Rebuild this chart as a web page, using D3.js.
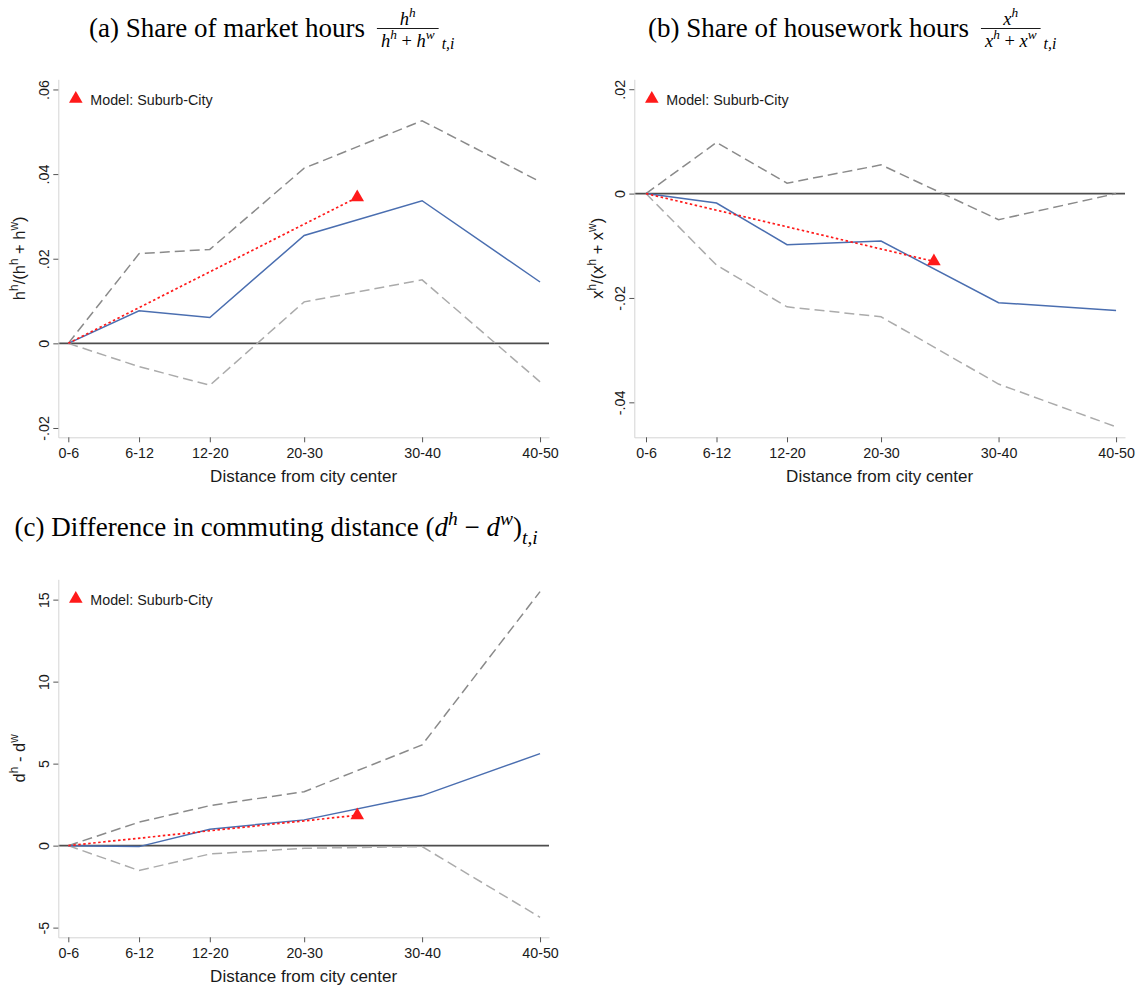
<!DOCTYPE html>
<html>
<head>
<meta charset="utf-8">
<script src="https://cdn.jsdelivr.net/npm/d3@7"></script>
<style>
  body { margin: 0; background: #fff; }
  svg { display: block; }
</style>
</head>
<body>
<div id="chart"></div>
<script>
// distance bands on the x axis and where they sit (Stata spacing)
var categories = ['0-6', '6-12', '12-20', '20-30', '30-40', '40-50'];
var xPos = [0, 3, 6, 10, 15, 20];
var modelX = [0, 12.25];

// (a) share of market hours
var marketEst = [0, 0.0077, 0.0061, 0.0255, 0.0337, 0.0145];
var marketHi = [0, 0.0212, 0.0222, 0.0414, 0.0526, 0.0382];
var marketLo = [0, -0.0055, -0.0099, 0.0098, 0.0150, -0.0091];
var marketModel = [0, 0.0345];
var marketTicks = [-0.02, 0, 0.02, 0.04, 0.06];

// (b) share of housework hours
var houseEst = [0, -0.0018, -0.0098, -0.0091, -0.0209, -0.0224];
var houseHi = [0, 0.0098, 0.0020, 0.0055, -0.0050, 0.0];
var houseLo = [0, -0.0137, -0.0217, -0.0236, -0.0365, -0.0447];
var houseModel = [0, -0.0130];
var houseTicks = [-0.04, -0.02, 0, 0.02];

// (c) difference in commuting distance
var commuteEst = [0, -0.06, 1.0, 1.57, 3.05, 5.61];
var commuteHi = [0, 1.43, 2.44, 3.29, 6.14, 15.49];
var commuteLo = [0, -1.52, -0.51, -0.16, -0.06, -4.37];
var commuteModel = [0, 1.85];
var commuteTicks = [-5, 0, 5, 10, 15];

var legendText = 'Model: Suburb-City';
var xTitle = 'Distance from city center';

var serif = '"Liberation Serif", "DejaVu Serif", serif';
var sans = '"Liberation Sans", Arial, sans-serif';
var blue = '#4a6eb0', red = '#ff1a1a';
var titleSize = 27, mathSize = 18.5;

var svg = d3.select('#chart').append('svg')
            .attr('width', 1142)
            .attr('height', 988);

var panels = [
  { left: 58.3, right: 549, top: 79.3, bottom: 437.3,
    xDomain: [-0.424, 20.38], yDomain: [-0.0222, 0.0624], ticks: marketTicks,
    est: marketEst, hi: marketHi, lo: marketLo, model: marketModel,
    labelX: 25, label: [{t: 'h'}, {t: 'h', s: 'sup'}, {t: '/(h'}, {t: 'h', s: 'sup'}, {t: ' + h'}, {t: 'w', s: 'sup'}, {t: ')'}],
    titleX: 89, titleY: 36.5, title: '(a) Share of market hours', frac: 'h' },
  { left: 634.3, right: 1125, top: 79.3, bottom: 437.3,
    xDomain: [-0.498, 20.38], yDomain: [-0.0467, 0.0219], ticks: houseTicks,
    est: houseEst, hi: houseHi, lo: houseLo, model: houseModel,
    labelX: 603, label: [{t: 'x'}, {t: 'h', s: 'sup'}, {t: '/(x'}, {t: 'h', s: 'sup'}, {t: ' + x'}, {t: 'w', s: 'sup'}, {t: ')'}],
    titleX: 648, titleY: 36.5, title: '(b) Share of housework hours', frac: 'x' },
  { left: 58.3, right: 549, top: 579.3, bottom: 937.3,
    xDomain: [-0.424, 20.38], yDomain: [-5.59, 16.24], ticks: commuteTicks,
    est: commuteEst, hi: commuteHi, lo: commuteLo, model: commuteModel,
    labelX: 25, label: [{t: 'd'}, {t: 'h', s: 'sup'}, {t: ' - d'}, {t: 'w', s: 'sup'}],
    titleX: 14.5, titleY: 536, title: '(c) Difference in commuting distance (', frac: null }
];

// write runs of text with superscripts / subscripts as tspans
function addRuns(text, runs, size) {
  var shift = 0;
  runs.forEach(function(r) {
    var target = r.s === 'sup' ? -size * 0.42 : (r.s === 'sub' ? size * 0.3 : 0);
    var ts = text.append('tspan').text(r.t).attr('dy', target - shift);
    if (r.s) ts.attr('font-size', size * 0.72);
    if (r.it === true) ts.attr('font-style', 'italic');
    if (r.it === false) ts.attr('font-style', 'normal');
    shift = target;
  });
}

function stataFmt(v) {
  if (v === 0) return '0';
  return String(+v.toFixed(4)).replace(/^(-?)0\./, '$1.');
}

function drawTitle(p) {
  var g = svg.append('g').attr('transform', 'translate(' + p.titleX + ',' + p.titleY + ')')
             .attr('font-family', serif).attr('fill', '#000');
  var main = g.append('text').attr('font-size', titleSize);
  if (p.frac) {
    main.text(p.title);
    var w = main.node().getComputedTextLength();
    var fx = w + 12;
    var v = p.frac;
    var den = g.append('text').attr('x', fx + 4).attr('y', 10).attr('font-size', mathSize).attr('font-style', 'italic');
    addRuns(den, [{t: v}, {t: 'h', s: 'sup'}, {t: ' + ', it: false}, {t: v}, {t: 'w', s: 'sup'}], mathSize);
    var dw = den.node().getComputedTextLength() + 8;
    g.append('line').attr('x1', fx).attr('x2', fx + dw).attr('y1', -8).attr('y2', -8)
     .attr('stroke', '#000').attr('stroke-width', 0.9);
    var num = g.append('text').attr('x', fx + dw / 2).attr('y', -12).attr('font-size', mathSize)
               .attr('font-style', 'italic').attr('text-anchor', 'middle');
    addRuns(num, [{t: v}, {t: 'h', s: 'sup'}], mathSize);
    g.append('text').attr('x', fx + dw + 3).attr('y', 12.5).attr('font-size', mathSize * 0.85)
     .attr('font-style', 'italic').text('t,i');
  } else {
    addRuns(main, [{t: p.title}, {t: 'd', it: true}, {t: 'h', s: 'sup', it: true},
                   {t: ' \u2212 '}, {t: 'd', it: true}, {t: 'w', s: 'sup', it: true},
                   {t: ')'}, {t: 't,i', s: 'sub', it: true}], titleSize);
  }
}

function drawPanel(p) {
  var g = svg.append('g');
  var x = d3.scaleLinear().domain(p.xDomain).range([p.left, p.right]);
  var y = d3.scaleLinear().domain(p.yDomain).range([p.bottom, p.top]);

  var line = d3.line()
               .x(function(d, i) { return x(xPos[i]); })
               .y(function(d) { return y(d); });

  // reference line at zero
  g.append('line')
   .attr('x1', p.left).attr('x2', p.right)
   .attr('y1', y(0)).attr('y2', y(0))
   .attr('stroke', '#4d4d4d').attr('stroke-width', 1.6);

  g.append('path').datum(p.hi).attr('d', line)
   .attr('fill', 'none').attr('stroke', '#8a8a8a').attr('stroke-width', 1.5)
   .attr('stroke-dasharray', '10,5');
  g.append('path').datum(p.lo).attr('d', line)
   .attr('fill', 'none').attr('stroke', '#ababab').attr('stroke-width', 1.5)
   .attr('stroke-dasharray', '10,5');
  g.append('path').datum(p.est).attr('d', line)
   .attr('fill', 'none').attr('stroke', blue).attr('stroke-width', 1.5);

  var modelLine = d3.line()
                    .x(function(d, i) { return x(modelX[i]); })
                    .y(function(d) { return y(d); });
  g.append('path').datum(p.model).attr('d', modelLine)
   .attr('fill', 'none').attr('stroke', red).attr('stroke-width', 1.7)
   .attr('stroke-dasharray', '2.5,2.5');

  g.append('path')
   .attr('d', d3.symbol(d3.symbolTriangle, 80))
   .attr('transform', 'translate(' + x(modelX[1]) + ',' + y(p.model[1]) + ')')
   .attr('fill', red);

  // axes
  var xAxis = d3.axisBottom(x).tickValues(xPos)
                .tickFormat(function(d, i) { return categories[i]; })
                .tickSize(5).tickSizeOuter(0).tickPadding(6);
  var ax = g.append('g').attr('transform', 'translate(0,' + p.bottom + ')').call(xAxis)
            .attr('font-family', sans).attr('font-size', 14.3);
  ax.select('.domain').attr('stroke', '#d4d4d4');
  ax.selectAll('.tick line').attr('stroke', '#555');
  ax.selectAll('.tick text').attr('fill', '#1a1a1a');

  var yAxis = d3.axisLeft(y).tickValues(p.ticks).tickFormat(stataFmt)
                .tickSize(5).tickSizeOuter(0);
  var ay = g.append('g').attr('transform', 'translate(' + p.left + ',0)').call(yAxis)
            .attr('font-family', sans).attr('font-size', 14.3);
  ay.select('.domain').attr('stroke', '#d4d4d4');
  ay.selectAll('.tick line').attr('stroke', '#555');
  ay.selectAll('.tick text')
    .attr('fill', '#1a1a1a')
    .attr('transform', 'rotate(-90)')
    .attr('x', 0).attr('y', -9).attr('dy', 0)
    .attr('text-anchor', 'middle');

  g.append('text')
   .attr('x', (p.left + p.right) / 2).attr('y', p.bottom + 44.5)
   .attr('text-anchor', 'middle').attr('font-family', sans).attr('font-size', 17)
   .attr('fill', '#1a1a1a').text(xTitle);

  var yl = g.append('text')
            .attr('transform', 'translate(' + p.labelX + ',' + (p.top + p.bottom) / 2 + ') rotate(-90)')
            .attr('text-anchor', 'middle').attr('font-family', sans).attr('font-size', 16.5)
            .attr('fill', '#1a1a1a');
  addRuns(yl, p.label, 16.5);

  // legend
  g.append('path')
   .attr('d', d3.symbol(d3.symbolTriangle, 80))
   .attr('transform', 'translate(' + (p.left + 17.5) + ',' + (p.top + 19.5) + ')')
   .attr('fill', red);
  g.append('text')
   .attr('x', p.left + 32).attr('y', p.top + 25.5)
   .attr('font-family', sans).attr('font-size', 14.3).attr('fill', '#1a1a1a')
   .text(legendText);

  drawTitle(p);
}

panels.forEach(drawPanel);
</script>
</body>
</html>
